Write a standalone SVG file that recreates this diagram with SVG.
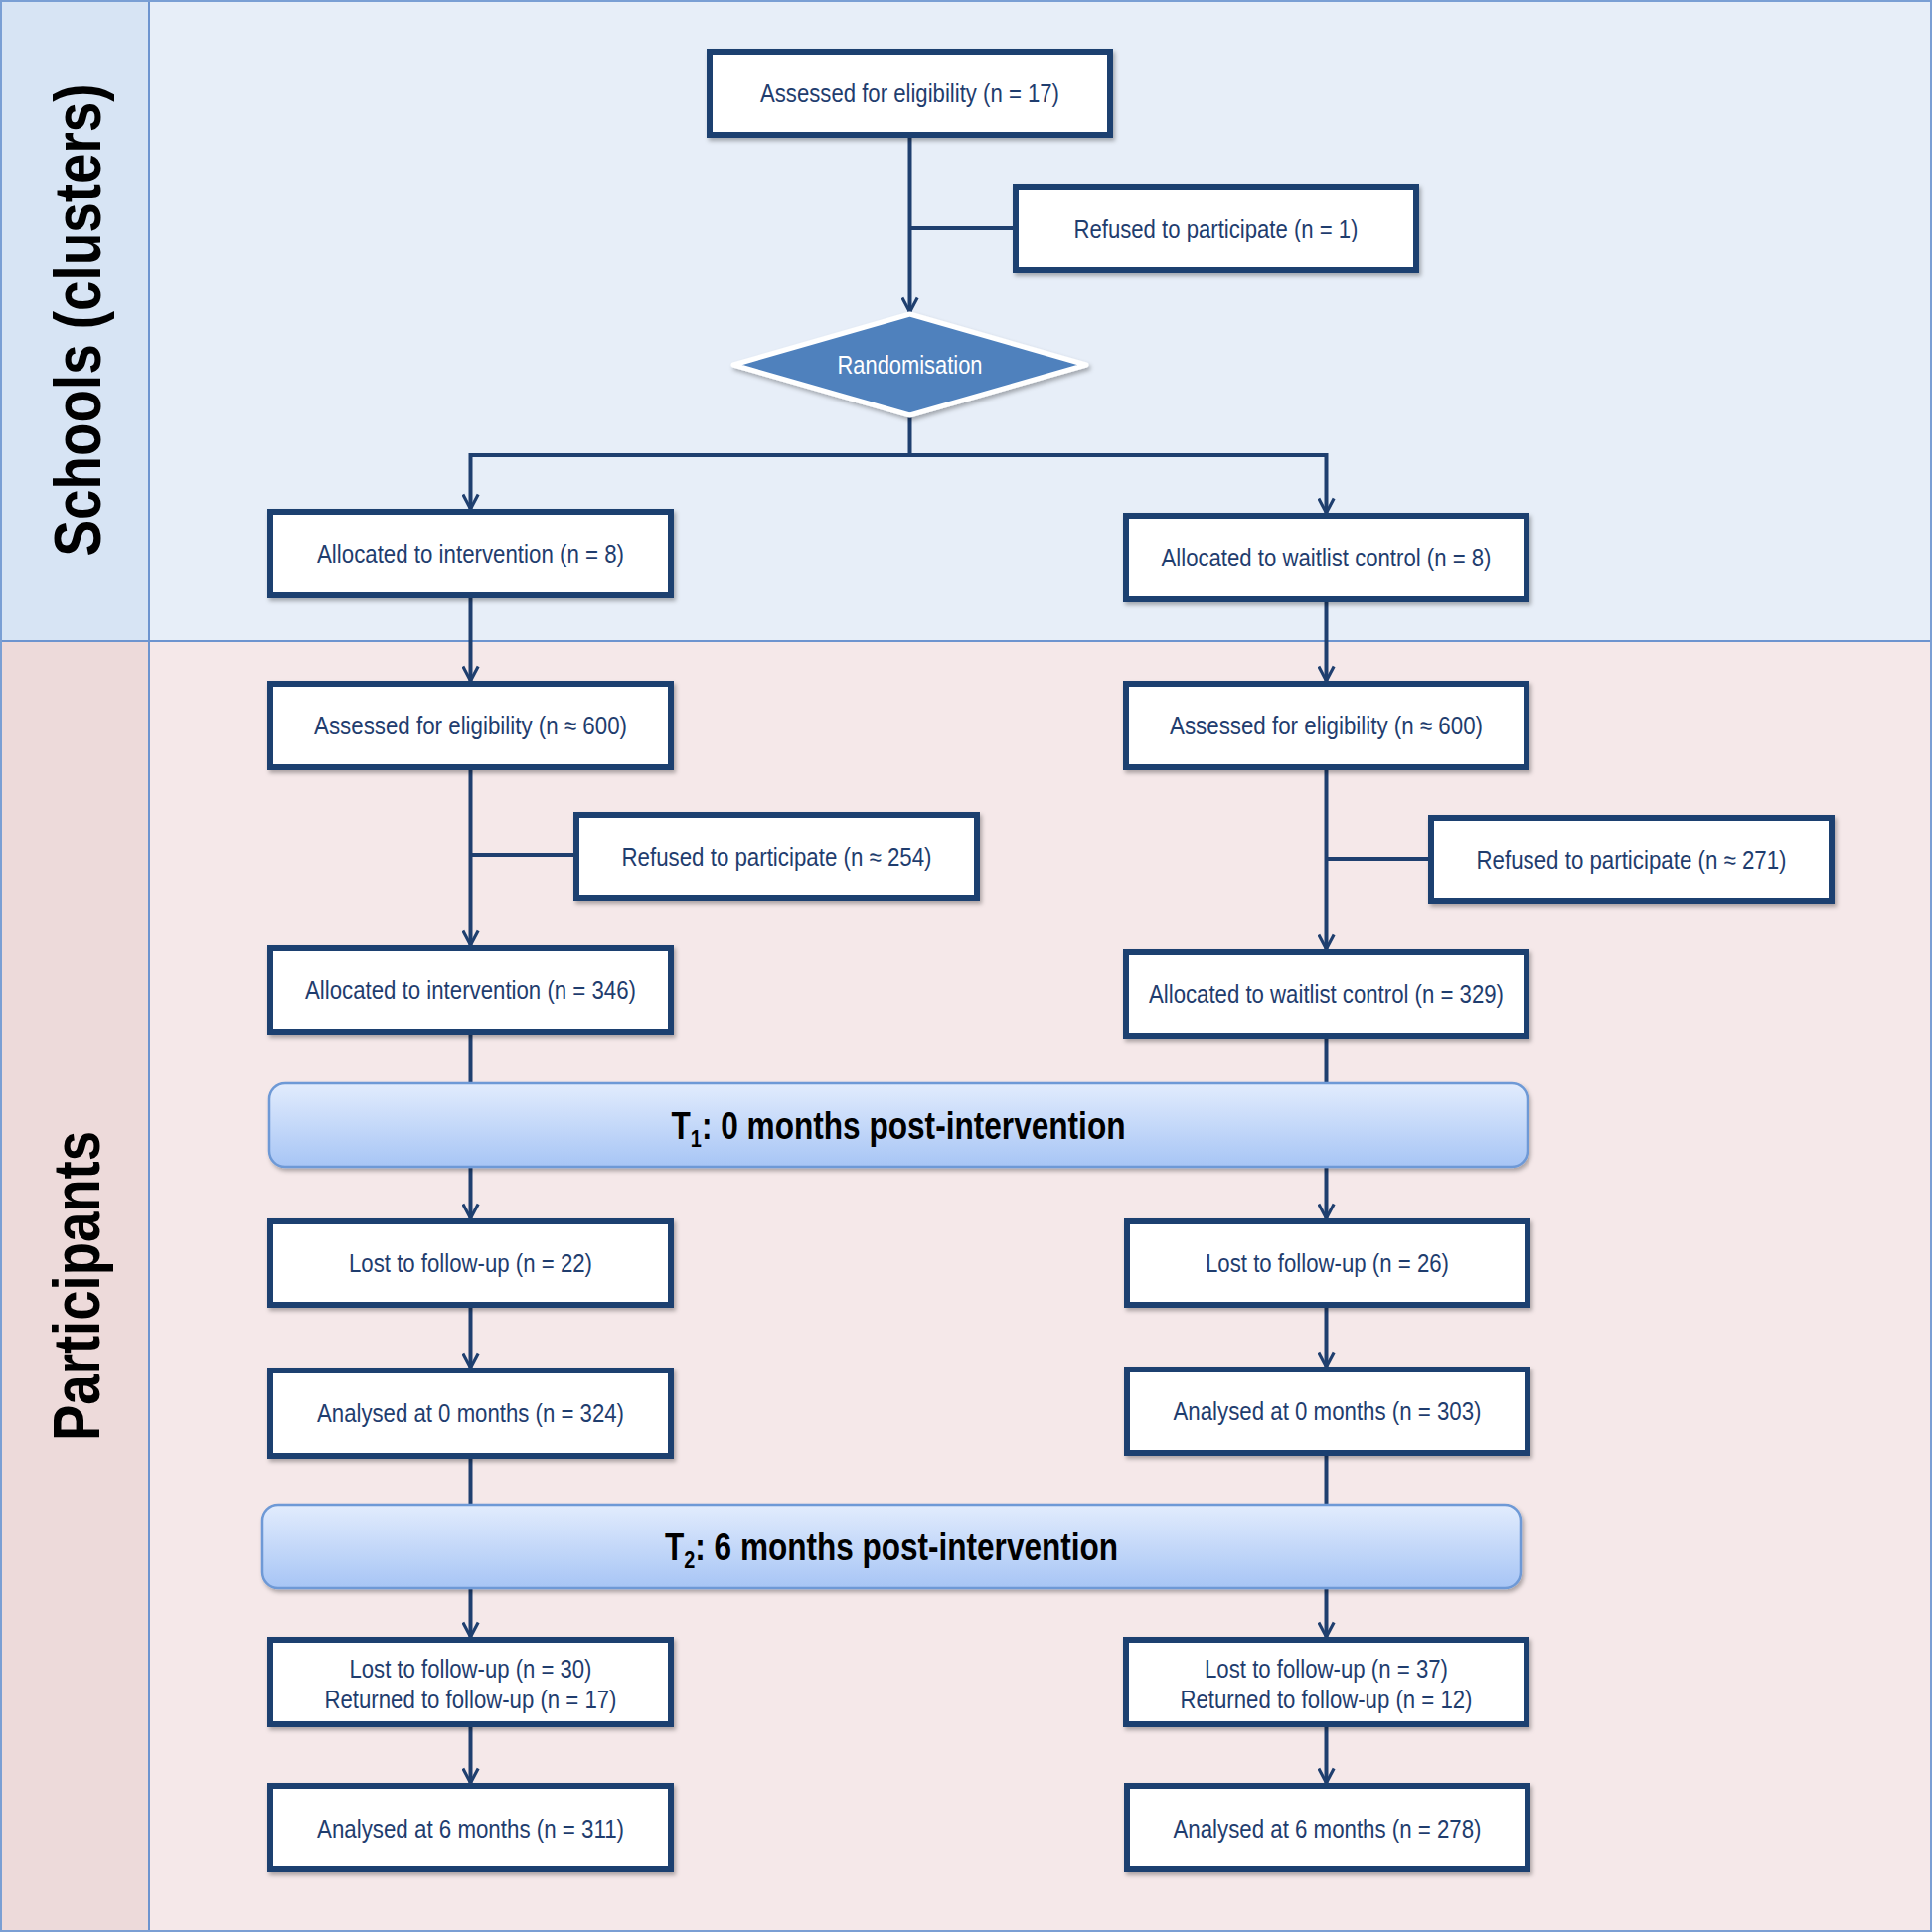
<svg xmlns="http://www.w3.org/2000/svg" width="1944" height="1944" viewBox="0 0 1944 1944">
<defs>
<style>
.box rect{fill:#ffffff;stroke:#1f3f6f;stroke-width:6;filter:url(#sh)}
.lbl{font-family:"Liberation Sans Narrow","Liberation Sans",Arial,sans-serif;font-size:26px;fill:#1f3d6e;text-anchor:middle}
.conn{stroke:#1f3f6f;stroke-width:4;fill:none}
.arr{marker-end:url(#ah)}
.band rect{fill:url(#bg);stroke:#6e99d6;stroke-width:2.5;filter:url(#sh)}
.bandtxt{font-family:"Liberation Sans Narrow","Liberation Sans",Arial,sans-serif;font-size:38px;font-weight:bold;fill:#000;text-anchor:middle}
.side{font-family:"Liberation Sans",Arial,sans-serif;font-size:66px;font-weight:bold;fill:#000;text-anchor:middle}
</style>
<linearGradient id="bg" x1="0" y1="0" x2="0" y2="1">
<stop offset="0" stop-color="#e2ecfd"/>
<stop offset="1" stop-color="#a7c5f5"/>
</linearGradient>
<filter id="sh" x="-5%" y="-20%" width="110%" height="140%">
<feDropShadow dx="2" dy="3" stdDeviation="2" flood-color="#000" flood-opacity="0.3"/>
</filter>
<marker id="ah" markerUnits="userSpaceOnUse" viewBox="0 0 20 20" refX="18" refY="10" markerWidth="18" markerHeight="18" orient="auto">
<path d="M2,1.5 L18,10 L2,18.5" fill="none" stroke="#1f3f6f" stroke-width="3.5"/>
</marker>
</defs>

<g id="background">
<rect x="0" y="0" width="1944" height="645" fill="#e7eef8"/>
<rect x="0" y="645" width="1944" height="1299" fill="#f5e8e9"/>
<rect x="0" y="0" width="150" height="645" fill="#d7e4f4"/>
<rect x="0" y="645" width="150" height="1299" fill="#eddada"/>
<line x1="150" y1="0" x2="150" y2="1944" stroke="#6d94cf" stroke-width="2"/>
<line x1="0" y1="645" x2="1944" y2="645" stroke="#6d94cf" stroke-width="2"/>
<rect x="1" y="1" width="1942" height="1942" fill="none" stroke="#7a9fd4" stroke-width="2"/>
</g>

<g id="side-labels">
<text class="side" transform="translate(101,322) rotate(-90)" textLength="475" lengthAdjust="spacingAndGlyphs">Schools (clusters)</text>
<text class="side" transform="translate(100,1294) rotate(-90)" textLength="312" lengthAdjust="spacingAndGlyphs">Participants</text>
</g>

<g id="connectors">
<line class="conn arr" x1="915.5" y1="139" x2="915.5" y2="314"/>
<line class="conn" x1="915.5" y1="229" x2="1019" y2="229"/>
<line class="conn" x1="915.5" y1="418" x2="915.5" y2="458"/>
<line class="conn" x1="473.5" y1="458" x2="1334.5" y2="458"/>
<line class="conn arr" x1="473.5" y1="456" x2="473.5" y2="512"/>
<line class="conn arr" x1="1334.5" y1="456" x2="1334.5" y2="516"/>
<line class="conn arr" x1="473.5" y1="602" x2="473.5" y2="685"/>
<line class="conn arr" x1="1334.5" y1="606" x2="1334.5" y2="685"/>
<line class="conn arr" x1="473.5" y1="775" x2="473.5" y2="951"/>
<line class="conn" x1="473.5" y1="860" x2="577" y2="860"/>
<line class="conn arr" x1="1334.5" y1="775" x2="1334.5" y2="955"/>
<line class="conn" x1="1334.5" y1="864" x2="1437" y2="864"/>
<line class="conn" x1="473.5" y1="1041" x2="473.5" y2="1090"/>
<line class="conn" x1="1334.5" y1="1045" x2="1334.5" y2="1090"/>
<line class="conn arr" x1="473.5" y1="1174" x2="473.5" y2="1226"/>
<line class="conn arr" x1="1334.5" y1="1174" x2="1334.5" y2="1226"/>
<line class="conn arr" x1="473.5" y1="1316" x2="473.5" y2="1376"/>
<line class="conn arr" x1="1334.5" y1="1316" x2="1334.5" y2="1375"/>
<line class="conn" x1="473.5" y1="1468" x2="473.5" y2="1514"/>
<line class="conn" x1="1334.5" y1="1465" x2="1334.5" y2="1514"/>
<line class="conn arr" x1="473.5" y1="1598" x2="473.5" y2="1647"/>
<line class="conn arr" x1="1334.5" y1="1598" x2="1334.5" y2="1647"/>
<line class="conn arr" x1="473.5" y1="1738" x2="473.5" y2="1794"/>
<line class="conn arr" x1="1334.5" y1="1738" x2="1334.5" y2="1794"/>
</g>

<g id="n-assessed-schools" class="box"><rect x="714" y="52" width="403" height="84"/><text class="lbl" x="915.5" y="103" textLength="301" lengthAdjust="spacingAndGlyphs">Assessed for eligibility (n = 17)</text></g>
<g id="n-refused-schools" class="box"><rect x="1022" y="188" width="403" height="84"/><text class="lbl" x="1223.5" y="239" textLength="286" lengthAdjust="spacingAndGlyphs">Refused to participate (n = 1)</text></g>
<g id="n-randomisation">
<polygon points="738,367 915.5,316 1093,367 915.5,418" fill="#4f81bd" stroke="#ffffff" stroke-width="5" stroke-linejoin="round" filter="url(#sh)"/>
<text class="lbl" x="915.5" y="376" fill="#ffffff" style="fill:#ffffff" textLength="146" lengthAdjust="spacingAndGlyphs">Randomisation</text>
</g>
<g id="n-alloc-int-schools" class="box"><rect x="272" y="515" width="403" height="84"/><text class="lbl" x="473.5" y="566" textLength="309" lengthAdjust="spacingAndGlyphs">Allocated to intervention (n = 8)</text></g>
<g id="n-alloc-wait-schools" class="box"><rect x="1133" y="519" width="403" height="84"/><text class="lbl" x="1334.5" y="570" textLength="332" lengthAdjust="spacingAndGlyphs">Allocated to waitlist control (n = 8)</text></g>
<g id="n-assessed-int" class="box"><rect x="272" y="688" width="403" height="84"/><text class="lbl" x="473.5" y="739" textLength="315" lengthAdjust="spacingAndGlyphs">Assessed for eligibility (n ≈ 600)</text></g>
<g id="n-assessed-wait" class="box"><rect x="1133" y="688" width="403" height="84"/><text class="lbl" x="1334.5" y="739" textLength="315" lengthAdjust="spacingAndGlyphs">Assessed for eligibility (n ≈ 600)</text></g>
<g id="n-refused-int" class="box"><rect x="580" y="820" width="403" height="84"/><text class="lbl" x="781.5" y="871" textLength="312" lengthAdjust="spacingAndGlyphs">Refused to participate (n ≈ 254)</text></g>
<g id="n-refused-wait" class="box"><rect x="1440" y="823" width="403" height="84"/><text class="lbl" x="1641.5" y="874" textLength="312" lengthAdjust="spacingAndGlyphs">Refused to participate (n ≈ 271)</text></g>
<g id="n-alloc-int" class="box"><rect x="272" y="954" width="403" height="84"/><text class="lbl" x="473.5" y="1005" textLength="333" lengthAdjust="spacingAndGlyphs">Allocated to intervention (n = 346)</text></g>
<g id="n-alloc-wait" class="box"><rect x="1133" y="958" width="403" height="84"/><text class="lbl" x="1334.5" y="1009" textLength="357" lengthAdjust="spacingAndGlyphs">Allocated to waitlist control (n = 329)</text></g>

<g id="n-t1" class="band"><rect x="271" y="1090" width="1266" height="84" rx="16"/><text class="bandtxt" x="904" y="1146" textLength="457" lengthAdjust="spacingAndGlyphs">T<tspan font-size="24" dy="8">1</tspan><tspan dy="-8">: 0 months post-intervention</tspan></text></g>

<g id="n-lost-int-0" class="box"><rect x="272" y="1229" width="403" height="84"/><text class="lbl" x="473.5" y="1280" textLength="245" lengthAdjust="spacingAndGlyphs">Lost to follow-up (n = 22)</text></g>
<g id="n-lost-wait-0" class="box"><rect x="1134" y="1229" width="403" height="84"/><text class="lbl" x="1335.5" y="1280" textLength="245" lengthAdjust="spacingAndGlyphs">Lost to follow-up (n = 26)</text></g>
<g id="n-anal-int-0" class="box"><rect x="272" y="1379" width="403" height="86"/><text class="lbl" x="473.5" y="1431" textLength="309" lengthAdjust="spacingAndGlyphs">Analysed at 0 months (n = 324)</text></g>
<g id="n-anal-wait-0" class="box"><rect x="1134" y="1378" width="403" height="84"/><text class="lbl" x="1335.5" y="1429" textLength="310" lengthAdjust="spacingAndGlyphs">Analysed at 0 months (n = 303)</text></g>

<g id="n-t2" class="band"><rect x="264" y="1514" width="1266" height="84" rx="16"/><text class="bandtxt" x="897" y="1570" textLength="456" lengthAdjust="spacingAndGlyphs">T<tspan font-size="24" dy="8">2</tspan><tspan dy="-8">: 6 months post-intervention</tspan></text></g>

<g id="n-lost-int-6" class="box"><rect x="272" y="1650" width="403" height="85"/><text class="lbl" x="473.5" y="1688" textLength="244" lengthAdjust="spacingAndGlyphs">Lost to follow-up (n = 30)</text><text class="lbl" x="473.5" y="1719" textLength="294" lengthAdjust="spacingAndGlyphs">Returned to follow-up (n = 17)</text></g>
<g id="n-lost-wait-6" class="box"><rect x="1133" y="1650" width="403" height="85"/><text class="lbl" x="1334.5" y="1688" textLength="245" lengthAdjust="spacingAndGlyphs">Lost to follow-up (n = 37)</text><text class="lbl" x="1334.5" y="1719" textLength="294" lengthAdjust="spacingAndGlyphs">Returned to follow-up (n = 12)</text></g>
<g id="n-anal-int-6" class="box"><rect x="272" y="1797" width="403" height="84"/><text class="lbl" x="473.5" y="1849" textLength="309" lengthAdjust="spacingAndGlyphs">Analysed at 6 months (n = 311)</text></g>
<g id="n-anal-wait-6" class="box"><rect x="1134" y="1797" width="403" height="84"/><text class="lbl" x="1335.5" y="1849" textLength="310" lengthAdjust="spacingAndGlyphs">Analysed at 6 months (n = 278)</text></g>
</svg>
